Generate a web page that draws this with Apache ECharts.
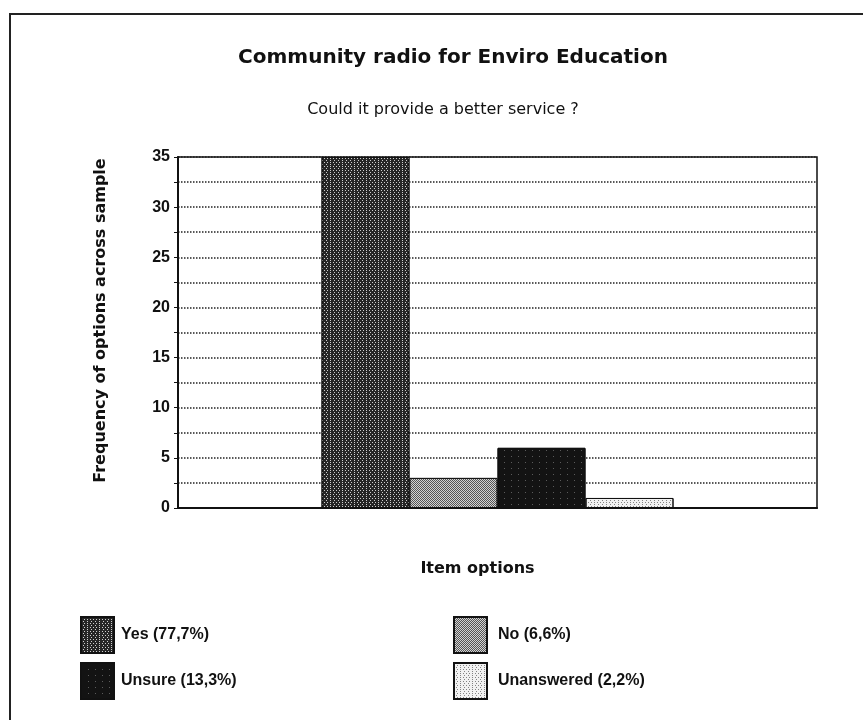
<!DOCTYPE html>
<html>
<head>
<meta charset="utf-8">
<script src="https://cdn.jsdelivr.net/npm/echarts@6/dist/echarts.min.js"></script>
<style>
  html, body { margin: 0; padding: 0; background: #fff; }
  #chart { width: 863px; height: 720px; }
</style>
</head>
<body>
<div id="chart"></div>
<script>
// Survey answers: how often each option was chosen
const categories = ['Yes', 'No', 'Unsure', 'Unanswered'];
const counts = [35, 3, 6, 1];
const shares = ['77,7', '6,6', '13,3', '2,2'];

// y axis ticks
const yMin = 0;
const yMax = 35;
const yStep = 5;

// fill + dotted texture for each answer
const fills = [
  { color: '#262626', dot: 'rgba(235,235,235,0.85)', dx: [[1, 2], [0, 1.5, 1, 0.5]], dy: [1, 1] },
  { color: '#555555', dot: 'rgba(225,225,225,0.9)', dx: [[1, 1], [0, 1, 1, 0]], dy: [1, 0] },
  { color: '#131313', dot: 'rgba(110,110,110,0.8)', dx: [1, 6], dy: [1, 5] },
  { color: '#f2f2f2', dot: 'rgba(120,120,120,0.9)', dx: [[1, 2], [0, 1.5, 1, 0.5]], dy: [1, 1] }
];

const legendLabel = {};
categories.forEach((c, i) => { legendLabel[c] = c + ' (' + shares[i] + '%)'; });

const chart = echarts.init(document.getElementById('chart'), null, { renderer: 'canvas' });

const series = categories.map((name, i) => ({
  name: name,
  type: 'bar',
  data: [counts[i]],
  barWidth: 88,
  barGap: '0%',
  itemStyle: {
    color: fills[i].color,
    borderColor: '#111',
    borderWidth: 1,
    decal: {
      symbol: 'rect',
      symbolSize: 1,
      dashArrayX: fills[i].dx,
      dashArrayY: fills[i].dy,
      color: fills[i].dot
    }
  }
}));

const font = '"Liberation Sans", Arial, sans-serif';
const wide = '"DejaVu Sans", Verdana, sans-serif';

chart.setOption({
  backgroundColor: '#fff',
  animation: false,
  textStyle: { fontFamily: font },
  graphic: [
    {
      type: 'polyline',
      shape: { points: [[10, 720], [10, 14], [863, 14]] },
      style: { stroke: '#222', lineWidth: 2, fill: null }
    },
    {
      type: 'text', x: 453, y: 58,
      style: {
        text: 'Community radio for Enviro Education',
        font: 'bold 20px ' + wide,
        fill: '#111', textAlign: 'center', textVerticalAlign: 'middle'
      }
    },
    {
      type: 'text', x: 443, y: 110,
      style: {
        text: 'Could it provide a better service ?',
        font: '16px ' + wide,
        fill: '#111', textAlign: 'center', textVerticalAlign: 'middle'
      }
    }
  ],
  grid: {
    left: 178, right: 46, top: 157, bottom: 212,
    show: true, borderColor: '#111', borderWidth: 1.5, backgroundColor: '#fff'
  },
  legend: [
    {
      data: [categories[0], categories[2]],
      orient: 'vertical', left: 75, top: 611,
      itemWidth: 33, itemHeight: 36, itemGap: 8,
      icon: 'rect', selectedMode: false,
      formatter: n => legendLabel[n],
      textStyle: { fontSize: 16, fontWeight: 'bold', fontFamily: font, color: '#111', padding: [0, 0, 0, 2] }
    },
    {
      data: [categories[1], categories[3]],
      orient: 'vertical', left: 448, top: 611,
      itemWidth: 33, itemHeight: 36, itemGap: 8,
      icon: 'rect', selectedMode: false,
      formatter: n => legendLabel[n],
      textStyle: { fontSize: 16, fontWeight: 'bold', fontFamily: font, color: '#111', padding: [0, 0, 0, 6] }
    }
  ],
  xAxis: {
    type: 'category',
    data: [''],
    name: 'Item options',
    nameLocation: 'middle',
    nameGap: 53,
    nameTextStyle: { fontSize: 16, fontWeight: 'bold', fontFamily: wide, color: '#111', padding: [0, 40, 0, 0] },
    axisLine: { show: true, lineStyle: { color: '#111', width: 2 } },
    axisTick: { show: false },
    axisLabel: { show: false },
    splitLine: { show: false }
  },
  yAxis: {
    type: 'value',
    min: yMin, max: yMax, interval: yStep,
    name: 'Frequency of options across sample',
    nameLocation: 'middle',
    nameGap: 69,
    nameTextStyle: { fontSize: 16, fontWeight: 'bold', fontFamily: wide, color: '#111', padding: [0, 0, 0, 24] },
    axisLine: { show: true, lineStyle: { color: '#111', width: 2 } },
    axisTick: { show: true, length: 4, lineStyle: { color: '#111' } },
    minorTick: { show: true, splitNumber: 2, length: 4, lineStyle: { color: '#111' } },
    axisLabel: { fontSize: 16, fontWeight: 'bold', color: '#111', margin: 8 },
    splitLine: { show: true, lineStyle: { color: '#222', type: 'dotted', width: 1.5 } },
    minorSplitLine: { show: true, lineStyle: { color: '#222', type: 'dotted', width: 1.5 } }
  },
  series: series
});
</script>
</body>
</html>
